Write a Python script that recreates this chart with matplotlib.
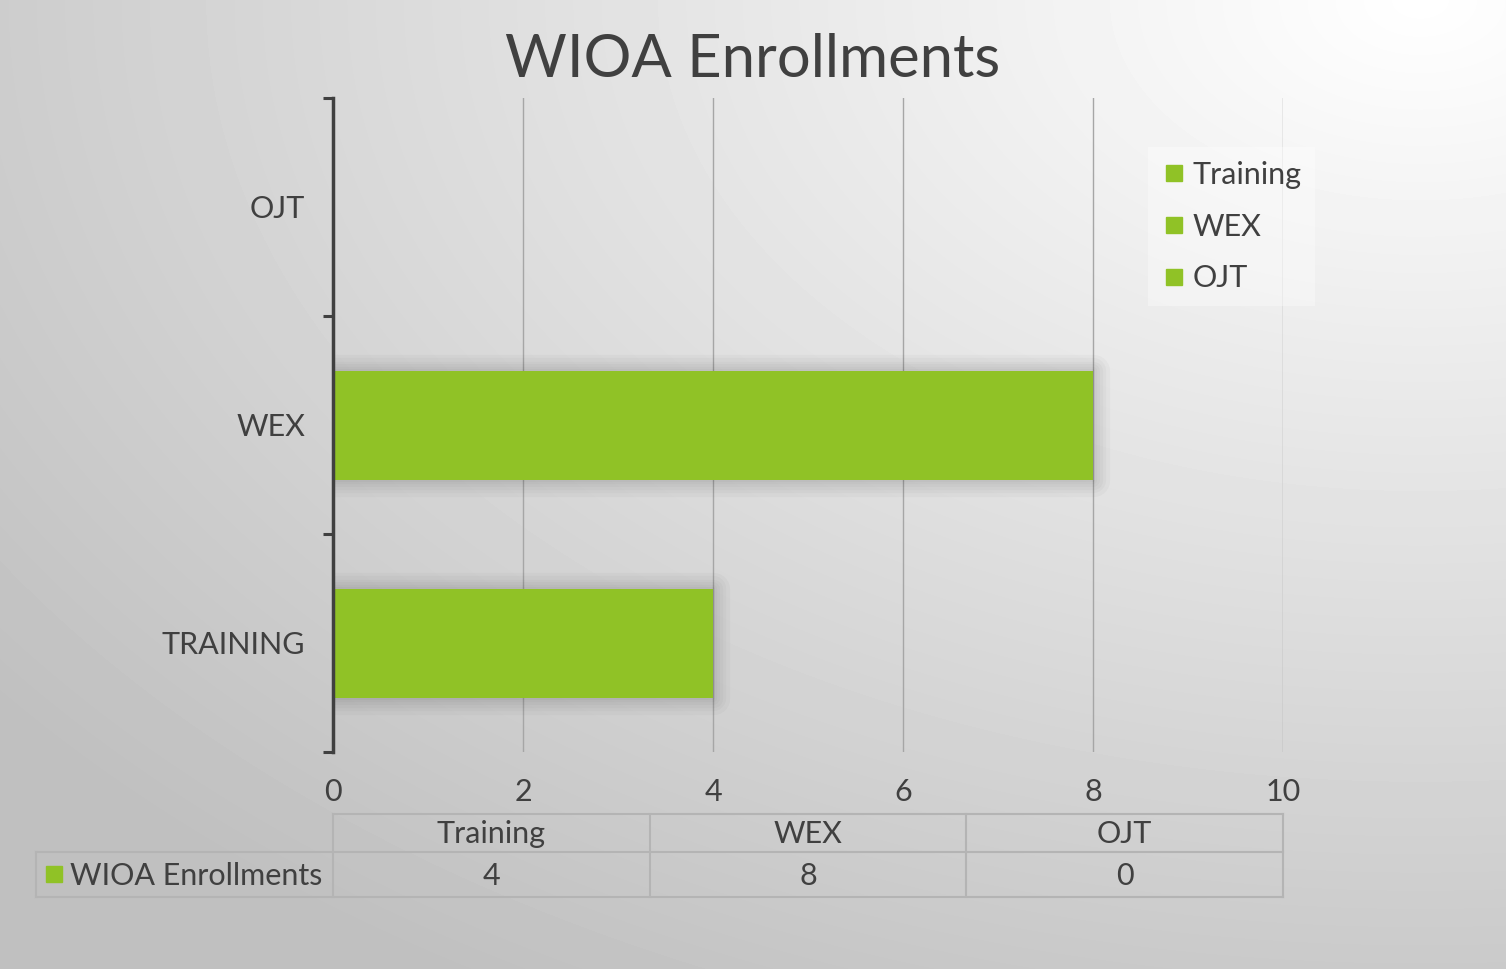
import numpy as np
import matplotlib.pyplot as plt
from matplotlib.lines import Line2D

categories = ['TRAINING', 'WEX', 'OJT']
table_labels = ['Training', 'WEX', 'OJT']
enrollments = [4, 8, 0]
series_name = 'WIOA Enrollments'
x_ticks = [0, 2, 4, 6, 8, 10]

GREEN = '#90c226'
TEXT = '#404040'
W, H = 1506, 969

plt.rcParams['font.family'] = ['Lato', 'DejaVu Sans']

fig = plt.figure(figsize=(W / 100, H / 100), dpi=100)

# background: radial gradient, light at top right
bg = fig.add_axes([0, 0, 1, 1], zorder=0)
yy, xx = np.mgrid[0:H, 0:W]
d = np.hypot((xx - 1420) / W, yy / H)
shade = 1.0 - 0.25 * np.clip(d / 1.2, 0, 1)
bg.imshow(shade, cmap='gray', vmin=0, vmax=1, extent=(0, W, H, 0), aspect='auto')
bg.set_xlim(0, W)
bg.set_ylim(H, 0)
bg.axis('off')

# main chart
ax = fig.add_axes([333 / W, 217 / H, 950 / W, 654 / H], zorder=1)
ax.patch.set_alpha(0)
y = np.arange(len(categories))
vals = np.array(enrollments)
nz = vals > 0
# soft glow behind the (non-empty) bars
for lw in [24, 19, 14, 10, 6, 3]:
    ax.barh(y[nz], vals[nz], height=0.5, color='none', edgecolor=(0, 0, 0, 0.022),
            linewidth=lw, joinstyle='round', zorder=2)
ax.barh(y, vals, height=0.5, color=GREEN, zorder=3)
ax.set_xlim(0, 10)
ax.set_ylim(-0.5, len(categories) - 0.5)
ax.set_xticks(x_ticks)
ax.set_yticks(y, categories)
ax.set_yticks(np.arange(len(categories) + 1) - 0.5, minor=True)
ax.tick_params(axis='y', which='major', length=0, pad=20, labelsize=22, labelcolor=TEXT)
ax.tick_params(axis='y', which='minor', length=7, width=2.2, color=TEXT)
ax.tick_params(axis='x', length=0, pad=19, labelsize=22, labelcolor=TEXT)
ax.grid(axis='x', color='#a6a6a6', lw=1.0, zorder=1)
ax.set_axisbelow(True)
for s in ['top', 'right', 'bottom']:
    ax.spines[s].set_visible(False)
ax.spines['left'].set_color(TEXT)
ax.spines['left'].set_linewidth(2.5)
ax.spines['left'].set_zorder(4)

fig.text(0.5, 1 - 77 / H, series_name, ha='center', va='baseline', fontsize=43, color=TEXT)

# legend
handles = [Line2D([], [], marker='s', ls='', color=GREEN, markersize=12) for _ in table_labels]
fig.legend(handles, table_labels, loc='upper left', bbox_to_anchor=(1148 / W, 1 - 147 / H),
           frameon=True, fancybox=False, facecolor='white', framealpha=0.35, edgecolor='none',
           fontsize=22, labelcolor=TEXT, handletextpad=0.2, labelspacing=0.78,
           borderpad=0.45, handlelength=0.8, borderaxespad=0)

# data table under the axis
edges = np.linspace(0, 10, len(table_labels) + 1)
fig.canvas.draw()
edge_px = ax.transData.transform(np.column_stack([edges, np.zeros_like(edges)]))[:, 0]
lc = '#b4b4b4'
y0, y1, y2 = 814, 852, 897
bg.plot([edge_px[0], edge_px[-1]], [y0, y0], color=lc, lw=1.5)
bg.plot([36, edge_px[-1]], [y1, y1], color=lc, lw=1.5)
bg.plot([36, edge_px[-1]], [y2, y2], color=lc, lw=1.5)
bg.plot([36, 36], [y1, y2], color=lc, lw=1.5)
for e in edge_px:
    bg.plot([e, e], [y0, y2], color=lc, lw=1.5)
for i, (lab, v) in enumerate(zip(table_labels, enrollments)):
    mid = (edge_px[i] + edge_px[i + 1]) / 2
    bg.text(mid, 843, lab, ha='center', va='baseline', fontsize=22, color=TEXT)
    bg.text(mid, 885, str(v), ha='center', va='baseline', fontsize=22, color=TEXT)
bg.plot([54.5], [874], marker='s', color=GREEN, markersize=11)
bg.text(70, 885, series_name, ha='left', va='baseline', fontsize=22, color=TEXT)

fig.savefig('out.png', dpi=100)
